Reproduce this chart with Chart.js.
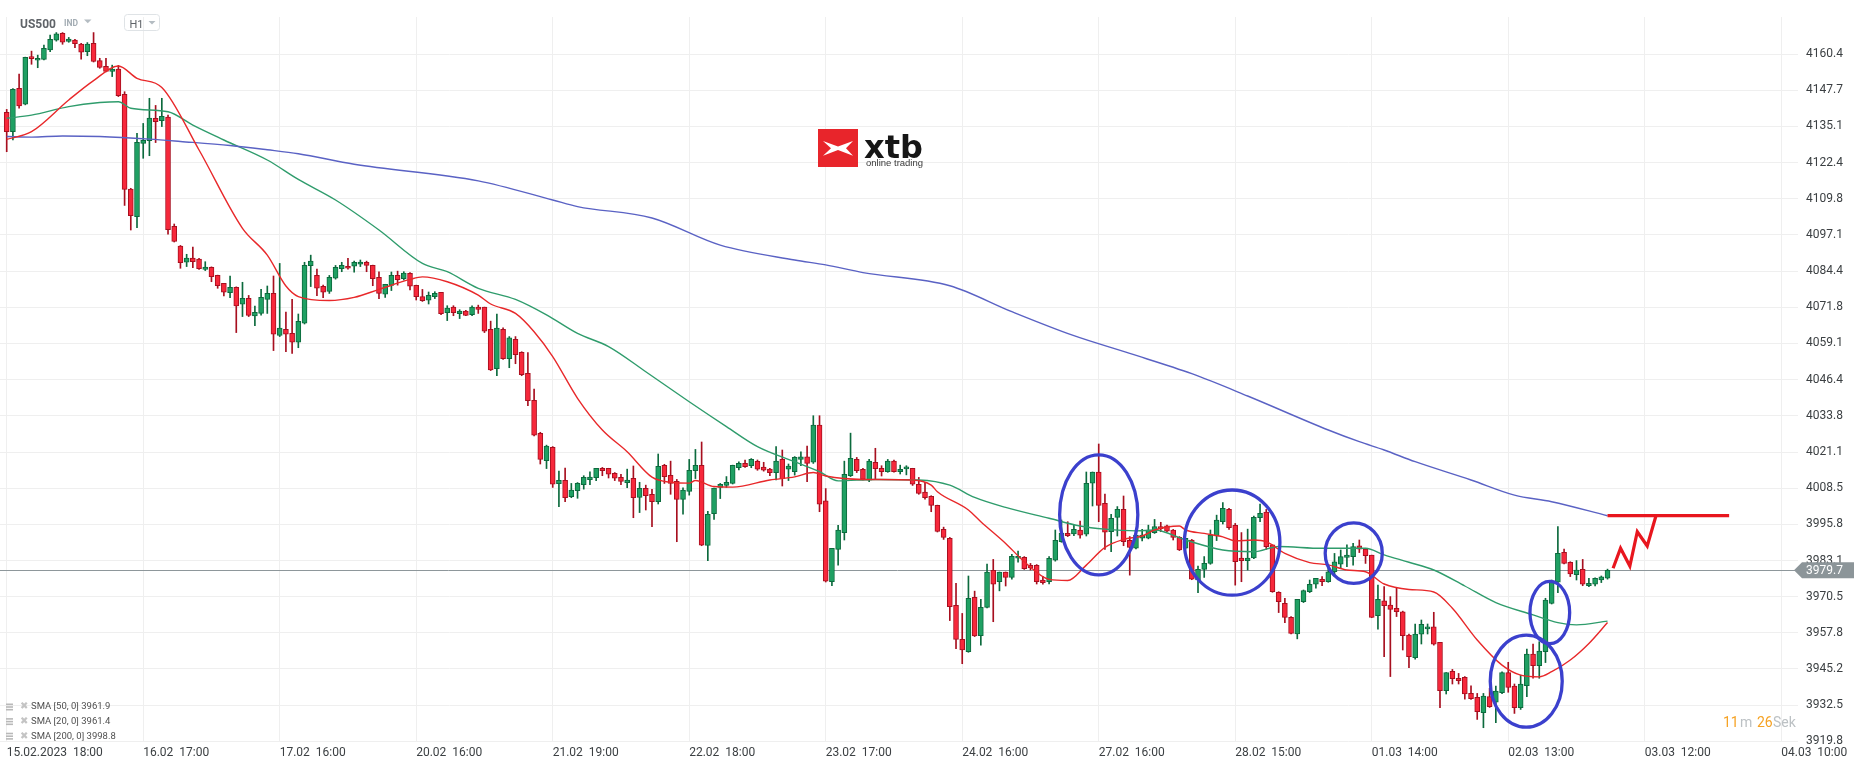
<!DOCTYPE html>
<html>
<head>
<meta charset="utf-8">
<title>US500 H1</title>
<script src="https://cdn.jsdelivr.net/npm/chart.js@4.4.1/dist/chart.umd.min.js"></script>
<style>
  html, body { margin: 0; padding: 0; background: #ffffff; }
  #wrap { position: relative; width: 1866px; height: 767px; }
</style>
</head>
<body>
<div id="wrap"><canvas id="usChart"></canvas></div>
<script>
// hourly candles, one per bar index
const openP = [
  4140.0,4133.2,4148.4,4142.8,4159.5,4158.2,4158.5,4161.8,4165.2,4167.6,4164.8,4165.3,4163.9,4161.2,4164.1,4158.1,4156.1,4154.3,4155.1,4146.3,
  4113.1,4103.5,4129.1,4130.1,4137.9,4137.1,4138.3,4100.1,4093.2,4087.5,4089.0,4088.6,4085.0,4085.7,4082.9,4080.1,4076.9,4078.7,4072.8,4074.9,
  4068.7,4069.6,4074.5,4076.6,4061.9,4064.0,4062.6,4059.5,4066.2,4086.3,4082.9,4079.1,4077.3,4081.9,4085.3,4086.1,4086.1,4086.8,4087.5,4086.4,
  4082.2,4076.3,4079.4,4082.9,4081.8,4083.6,4079.4,4075.5,4074.2,4075.5,4077.0,4069.9,4071.8,4069.5,4070.4,4069.2,4071.8,4071.8,4064.0,4050.3,
  4064.0,4053.8,4060.5,4056.0,4048.6,4039.2,4027.6,4018.1,4022.7,4010.0,4011.2,4005.5,4007.6,4009.7,4011.4,4012.1,4015.4,4015.4,4013.6,4012.2,
  4010.4,4011.9,4005.2,4008.4,4006.3,4003.7,4016.4,4012.9,4010.8,4004.5,4007.3,4014.6,4016.4,3988.4,3999.5,4008.7,4009.4,4010.1,4015.6,4017.1,
  4016.3,4017.8,4015.8,4015.1,4013.9,4018.5,4015.1,4014.2,4018.5,4019.4,4017.5,4030.5,4004.0,3975.7,3987.0,3992.9,4012.8,4018.5,4015.0,4011.2,
  4017.5,4015.4,4014.2,4017.9,4014.2,4015.2,4015.4,4009.8,4007.1,4005.6,4002.4,3994.0,3990.9,3967.4,3955.5,3951.2,3970.2,3956.8,3966.7,3979.7,
  3975.7,3979.1,3977.2,3983.9,3984.2,3981.4,3981.4,3976.3,3975.7,3983.2,3989.7,3992.6,3992.4,3993.8,3992.3,4010.2,4014.1,4003.1,3993.2,3998.2,
  4001.0,3990.2,3987.4,3990.9,3990.9,3992.9,3995.0,3995.3,3993.8,3991.2,3987.4,3990.3,3976.3,3980.0,3982.1,3991.7,3996.7,4001.0,3995.4,3984.0,
  3983.1,3984.0,3998.1,4000.1,3988.6,3972.0,3968.1,3963.2,3957.4,3968.7,3972.2,3974.8,3976.5,3975.7,3979.2,3981.8,3984.2,3984.5,3988.3,3987.1,
  3985.0,3963.8,3969.0,3967.5,3966.4,3965.2,3957.0,3949.1,3957.3,3959.2,3959.9,3954.5,3937.6,3944.3,3941.9,3942.2,3936.6,3935.2,3929.9,3935.5,
  3933.5,3936.9,3943.9,3939.2,3931.6,3939.3,3950.4,3946.3,3951.2,3968.1,3975.5,3986.0,3982.5,3978.2,3980.0,3974.3,3974.8,3976.3,3976.9
];
const highP = [
  4141.0,4148.3,4153.4,4159.3,4161.4,4160.0,4163.5,4167.0,4167.9,4167.9,4166.2,4165.5,4164.1,4164.4,4167.9,4158.9,4158.9,4156.5,4156.4,4147.2,
  4113.4,4132.6,4136.1,4144.9,4142.4,4144.9,4139.0,4100.9,4093.4,4090.3,4092.8,4088.9,4087.7,4085.9,4083.0,4080.1,4082.7,4078.9,4080.5,4075.9,
  4072.2,4078.0,4079.2,4082.7,4087.1,4070.1,4074.5,4069.4,4087.5,4090.0,4085.1,4079.5,4082.9,4086.4,4087.5,4088.9,4087.9,4088.3,4087.9,4086.5,
  4084.2,4079.8,4084.1,4084.4,4084.2,4083.9,4079.5,4078.0,4077.1,4077.2,4077.0,4072.3,4072.3,4070.9,4070.7,4072.3,4072.5,4071.8,4066.9,4069.4,
  4064.6,4061.5,4061.5,4056.2,4055.9,4043.1,4028.0,4023.5,4023.0,4014.4,4015.5,4010.1,4010.4,4012.8,4014.2,4015.4,4015.7,4015.4,4013.9,4013.3,
  4015.1,4016.2,4010.5,4009.5,4008.0,4020.4,4016.8,4017.9,4011.5,4008.6,4018.5,4022.0,4024.6,4000.3,4008.5,4010.1,4012.5,4016.5,4017.7,4018.3,
  4018.8,4018.3,4017.5,4015.4,4023.0,4021.8,4016.9,4019.5,4021.2,4023.2,4033.8,4033.8,4008.3,3987.4,3995.4,4017.9,4027.7,4019.2,4015.4,4018.5,
  4022.4,4016.3,4018.5,4018.3,4016.5,4016.3,4015.4,4012.2,4010.5,4005.8,4002.5,3994.8,3991.2,3975.1,3964.6,3977.7,3972.4,3969.5,3981.9,3983.5,
  3979.1,3979.1,3985.3,3986.4,3984.5,3982.1,3981.7,3977.6,3984.5,3993.8,3997.3,3996.7,3995.5,3996.9,4014.1,4014.1,4023.9,4006.4,3999.3,4002.0,
  4005.7,3991.5,3992.4,3994.0,3995.5,3997.5,3996.5,3995.5,3994.0,3991.5,3990.9,3990.5,3981.2,3984.5,3993.8,3999.0,4003.4,4001.4,3996.1,3992.9,
  3994.1,3998.7,4002.9,4001.0,3988.6,3972.2,3969.9,3963.5,3969.5,3972.8,3976.3,3976.9,3977.5,3981.8,3985.6,3986.8,3988.6,3989.1,3990.3,3987.4,
  3985.0,3974.5,3974.0,3970.5,3973.4,3965.4,3957.4,3960.9,3962.3,3960.9,3965.0,3954.5,3943.9,3945.0,3943.6,3942.5,3939.3,3936.6,3936.6,3938.4,
  3939.2,3944.2,3947.5,3939.9,3943.0,3952.1,3953.9,3954.7,3969.9,3976.3,3995.0,3987.1,3982.7,3983.1,3983.5,3976.9,3977.1,3977.7,3980.1
];
const lowP = [
  4126.2,4130.3,4141.4,4142.6,4156.8,4155.6,4158.3,4161.2,4164.9,4163.8,4164.5,4162.6,4158.6,4159.8,4157.6,4155.4,4154.1,4152.5,4145.5,4107.4,
  4098.8,4099.6,4123.9,4124.8,4129.4,4135.0,4097.3,4094.6,4085.4,4086.0,4085.6,4085.0,4084.6,4080.7,4078.4,4075.7,4075.1,4062.9,4068.5,4068.5,
  4065.3,4069.0,4069.6,4056.6,4061.5,4056.2,4055.6,4057.6,4065.9,4079.0,4075.8,4075.1,4076.6,4081.6,4084.2,4085.1,4084.0,4086.0,4084.2,4079.3,
  4074.8,4075.2,4077.6,4079.5,4081.3,4077.8,4074.3,4073.8,4072.9,4074.8,4069.2,4067.1,4068.8,4067.8,4068.8,4068.8,4069.6,4062.9,4049.6,4047.8,
  4053.5,4050.6,4052.0,4047.8,4037.3,4026.7,4016.9,4015.3,4008.7,4002.0,4003.7,4005.1,4004.9,4008.1,4009.7,4011.1,4012.8,4012.0,4011.1,4009.7,
  4008.6,3998.1,3999.9,4000.8,3995.0,4002.9,4010.1,4006.3,3989.7,3999.3,4006.0,4011.8,3988.3,3983.1,3997.5,4004.8,4008.7,4009.9,4014.8,4015.7,
  4015.6,4014.7,4014.4,4012.8,4011.3,4009.2,4011.1,4013.0,4016.3,4010.7,4017.1,4000.2,3975.6,3974.3,3981.5,3990.3,4012.5,4013.9,4011.3,4010.7,
  4011.5,4012.7,4014.0,4014.0,4013.4,4013.1,4009.4,4006.3,4004.6,4000.2,3993.1,3990.5,3962.1,3952.3,3947.0,3951.0,3956.5,3953.5,3966.5,3961.7,
  3972.5,3974.2,3976.6,3982.5,3980.0,3979.8,3974.9,3974.8,3974.9,3982.9,3989.5,3991.5,3991.8,3990.9,3991.7,4002.2,3996.7,3987.0,3986.2,3991.7,
  3988.3,3978.0,3987.2,3990.0,3990.7,3992.6,3993.2,3993.2,3990.3,3986.6,3987.2,3976.4,3971.9,3977.2,3981.8,3990.1,3995.9,3994.0,3974.5,3975.7,
  3979.8,3983.8,3996.7,3987.0,3972.0,3964.9,3961.4,3957.4,3955.7,3968.4,3971.9,3973.4,3974.3,3975.5,3977.5,3980.4,3981.0,3981.5,3985.9,3982.1,
  3963.1,3959.1,3949.5,3942.5,3963.5,3951.8,3945.6,3948.6,3953.9,3957.4,3953.5,3931.6,3936.4,3939.9,3939.9,3934.6,3934.5,3927.5,3924.6,3931.7,
  3926.4,3936.5,3937.0,3929.6,3931.0,3935.5,3941.9,3941.9,3947.4,3967.9,3971.9,3981.9,3977.5,3976.3,3974.3,3974.0,3974.2,3975.4,3976.6
];
const closeP = [
  4133.2,4148.0,4142.2,4159.2,4158.8,4158.9,4162.4,4165.5,4167.5,4164.5,4165.6,4164.0,4161.0,4163.9,4157.8,4155.7,4154.3,4155.1,4145.8,4113.0,
  4103.8,4129.5,4130.2,4138.0,4136.7,4138.6,4098.9,4094.8,4087.4,4089.0,4087.7,4085.3,4085.8,4082.5,4079.3,4077.0,4078.7,4072.2,4074.9,4068.9,
  4070.0,4075.2,4076.6,4062.3,4064.5,4062.3,4059.5,4066.8,4086.4,4087.9,4078.4,4077.0,4082.2,4085.7,4086.4,4085.4,4087.5,4087.6,4086.4,4081.8,
  4076.6,4079.8,4082.9,4081.4,4083.7,4079.1,4075.5,4074.1,4075.9,4076.6,4069.5,4071.5,4069.9,4070.4,4068.9,4071.8,4071.0,4063.4,4049.8,4064.5,
  4053.8,4061.1,4055.2,4048.2,4039.1,4027.0,4018.5,4023.2,4009.8,4011.2,4005.1,4007.8,4010.1,4012.2,4012.3,4015.4,4014.6,4013.3,4011.9,4010.8,
  4011.3,4005.1,4008.4,4005.8,4003.7,4016.1,4012.5,4010.1,4004.5,4007.8,4014.7,4016.4,3988.5,3999.3,4008.5,4009.8,4010.5,4016.4,4017.1,4016.0,
  4018.5,4015.1,4014.7,4013.9,4017.9,4011.8,4016.2,4019.2,4019.4,4017.1,4030.5,4002.8,3975.9,3987.4,3993.8,4013.3,4018.9,4014.6,4011.5,4017.9,
  4015.3,4014.2,4017.9,4014.2,4015.0,4015.7,4009.8,4006.6,4005.1,4002.4,3993.3,3991.2,3967.0,3955.5,3951.8,3969.9,3956.7,3966.7,3979.1,3974.8,
  3979.1,3977.2,3984.6,3984.6,3980.3,3980.5,3975.7,3975.4,3983.9,3990.2,3992.6,3991.8,3994.0,3992.0,4010.1,4014.1,4002.4,3993.0,3997.9,4001.0,
  3989.7,3987.7,3992.0,3992.0,3993.8,3995.0,3994.3,3993.4,3991.2,3986.8,3990.9,3976.6,3980.0,3982.1,3992.0,3997.3,4001.4,3994.6,3982.7,3983.1,
  3984.0,3998.2,3999.6,3988.0,3972.2,3968.7,3963.2,3957.6,3969.5,3972.6,3974.8,3976.9,3975.7,3979.2,3982.7,3984.5,3985.0,3988.0,3987.1,3984.8,
  3963.2,3969.5,3967.3,3966.0,3965.2,3956.8,3949.5,3957.4,3960.8,3959.9,3953.8,3937.6,3943.9,3941.8,3941.1,3936.4,3934.8,3930.2,3935.7,3932.0,
  3937.4,3943.9,3938.7,3931.6,3939.9,3950.4,3946.3,3951.4,3969.3,3975.9,3985.6,3982.1,3978.4,3979.8,3974.8,3975.1,3976.9,3977.4,3979.7
];

// moving averages: [bar index, value]
const sma20 = [
  [0,4130.5],[4,4133.2],[10,4144.3],[14,4151.1],[18,4156.2],[21,4151.9],[25,4148.7],[31,4126.8],[38,4099.4],[42,4090.0],
  [45,4079.2],[47,4075.5],[52,4074.1],[56,4075.2],[60,4078.0],[65,4081.5],[67,4082.4],[71,4080.7],[76,4076.0],[78,4072.9],
  [82,4069.6],[85,4063.2],[88,4054.5],[92,4039.9],[96,4028.8],[100,4021.2],[104,4012.3],[107,4010.5],[110,4010.2],[111,4011.1],
  [114,4009.0],[117,4008.8],[123,4011.3],[127,4012.4],[130,4013.9],[132,4012.7],[138,4011.5],[146,4011.3],[149,4009.5],[150,4007.2],
  [155,4000.8],[157,3996.7],[161,3989.1],[164,3982.7],[168,3976.5],[171,3976.1],[174,3981.5],[177,3987.7],[180,3990.5],[183,3991.7],
  [185,3993.8],[189,3995.2],[190,3993.8],[193,3992.6],[196,3991.4],[198,3990.0],[201,3990.3],[203,3989.7],[206,3985.6],[210,3982.4],
  [213,3981.6],[216,3979.8],[219,3979.2],[222,3974.9],[226,3973.0],[230,3972.1],[233,3966.4],[237,3955.3],[241,3946.5],[244,3943.0],
  [247,3942.4],[249,3944.2],[252,3948.3],[255,3954.1],[258,3961.4]
];
const sma50 = [
  [0,4137.9],[4,4139.0],[10,4142.0],[15,4143.4],[18,4143.7],[20,4141.4],[26,4140.2],[30,4135.5],[35,4130.3],[42,4123.3],
  [47,4116.5],[53,4109.3],[60,4098.8],[67,4087.1],[71,4084.2],[76,4078.4],[82,4074.5],[87,4069.1],[92,4062.6],[97,4058.0],
  [103,4049.2],[110,4038.7],[116,4030.0],[121,4023.0],[127,4017.7],[131,4014.2],[134,4011.0],[140,4011.5],[147,4011.3],[152,4009.5],
  [156,4005.2],[161,4001.7],[168,3997.9],[173,3995.2],[177,3994.1],[182,3993.5],[185,3993.8],[190,3990.3],[196,3986.8],[201,3986.2],
  [205,3988.0],[212,3987.4],[219,3987.4],[222,3985.1],[226,3982.5],[230,3979.8],[235,3974.2],[240,3968.4],[246,3964.1],[250,3961.4],
  [253,3960.6],[258,3961.9]
];
const sma200 = [
  [0,4131.5],[4,4131.3],[9,4131.7],[15,4131.5],[23,4130.6],[28,4129.8],[36,4128.4],[42,4126.9],[47,4125.5],[56,4121.8],
  [76,4116.0],[88,4109.3],[92,4107.0],[104,4103.0],[115,4093.5],[127,4088.3],[132,4086.6],[138,4083.9],[152,4079.3],[162,4070.2],
  [172,4061.8],[181,4055.6],[191,4048.5],[200,4040.7],[213,4028.8],[218,4024.7],[222,4021.8],[227,4017.7],[236,4011.3],[243,4006.0],
  [249,4003.7],[258,3998.8]
];

const xTickIdx = [0,22,44,66,88,110,132,154,176,198,220,242,264,286];
const xTickLabels = [
  '15.02.2023  18:00','16.02  17:00','17.02  16:00','20.02  16:00','21.02  19:00','22.02  18:00','23.02  17:00',
  '24.02  16:00','27.02  16:00','28.02  15:00','01.03  14:00','02.03  13:00','03.03  12:00','04.03  10:00'
];
const yTicks = [4160.4,4147.7,4135.1,4122.4,4109.8,4097.1,4084.4,4071.8,4059.1,4046.4,4033.8,4021.1,4008.5,3995.8,3983.1,3970.5,3957.8,3945.2,3932.5,3919.8];

// hand drawn marks, in chart units: [bar, price, half width in bars, half height in points]
const circles = [[176.0,3999.1,6.3,21.0],[197.5,3989.4,7.7,18.4],[217.1,3985.7,4.6,10.6],[248.7,3964.9,3.2,10.9],[244.9,3940.9,5.8,16.1]];
const targetLine = [[258,3998.8],[277.6,3998.8]];
const zigzag = [[258.9,3980.4],[260.1,3987.4],[261.6,3981.2],[262.8,3993.2],[264.4,3988.2],[265.8,3998.7]];

const bars = closeP.map((c, i) => i);
const lastClose = closeP[closeP.length - 1];
const isUp = closeP.map((c, i) => c >= openP[i]);
const bodyFill = isUp.map(u => u ? '#1fa063' : '#f7283b');
const bodyEdge = isUp.map(u => u ? '#0c6a3d' : '#a70f1f');

Chart.defaults.font.family = 'Roboto, "Noto Sans", sans-serif';

const decor = {
  id: 'decor',
  beforeDatasetsDraw(chart) {
    const { ctx, chartArea, scales: { y } } = chart;
    ctx.save();
    // xtb logo
    ctx.fillStyle = '#e8252b';
    ctx.fillRect(818, 129, 40, 38);
    ctx.fillStyle = '#ffffff';
    ctx.beginPath();
    ctx.moveTo(823, 141); ctx.lineTo(838, 146.5); ctx.lineTo(853, 141); ctx.lineTo(846, 148.3);
    ctx.lineTo(853, 155.7); ctx.lineTo(838, 150); ctx.lineTo(823, 155.7); ctx.lineTo(831, 148.3);
    ctx.closePath(); ctx.fill();
    ctx.fillStyle = '#161616';
    ctx.font = 'bold 32px "DejaVu Sans"';
    ctx.textBaseline = 'alphabetic';
    ctx.fillText('xtb', 864, 158);
    ctx.fillStyle = '#3a3a3a';
    ctx.font = '9.5px "Liberation Sans"';
    ctx.fillText('online trading', 866, 166);
    // last price line
    const py = Math.round(y.getPixelForValue(lastClose)) + 0.5;
    ctx.strokeStyle = '#8e979b';
    ctx.lineWidth = 1;
    ctx.beginPath(); ctx.moveTo(chartArea.left, py); ctx.lineTo(1795, py); ctx.stroke();
    ctx.restore();
  },
  afterDatasetsDraw(chart) {
    const { ctx, scales: { x, y } } = chart;
    ctx.save();
    ctx.strokeStyle = '#3b40cd';
    ctx.lineWidth = 3.3;
    circles.forEach(([cx, cy, rx, ry]) => {
      const px = x.getPixelForValue(cx), pyy = y.getPixelForValue(cy);
      const w = x.getPixelForValue(cx + rx) - px, h = pyy - y.getPixelForValue(cy + ry);
      ctx.beginPath(); ctx.ellipse(px, pyy, w, h, 0, 0, Math.PI * 2); ctx.stroke();
    });
    ctx.strokeStyle = '#e8161e';
    ctx.lineWidth = 3.2;
    [targetLine, zigzag].forEach(path => {
      ctx.beginPath();
      path.forEach(([a, b], k) => {
        const px = x.getPixelForValue(a), pyy = y.getPixelForValue(b);
        if (k === 0) ctx.moveTo(px, pyy); else ctx.lineTo(px, pyy);
      });
      ctx.stroke();
    });
    ctx.restore();
  },
  afterDraw(chart) {
    const { ctx, scales: { y } } = chart;
    ctx.save();
    ctx.textBaseline = 'alphabetic';
    // header
    ctx.fillStyle = '#5f6368';
    ctx.font = 'bold 12px Roboto';
    ctx.fillText('US500', 20, 27.5);
    ctx.fillStyle = '#a3acb3';
    ctx.font = 'bold 8.5px Roboto';
    ctx.fillText('IND', 64, 26.3);
    ctx.fillStyle = '#b4bcc2';
    ctx.beginPath(); ctx.moveTo(84, 19.5); ctx.lineTo(91.5, 19.5); ctx.lineTo(87.75, 23.2); ctx.fill();
    ctx.strokeStyle = '#dfe3e6';
    ctx.lineWidth = 1;
    ctx.beginPath(); ctx.roundRect(124.5, 14.5, 35, 16, 3); ctx.stroke();
    ctx.fillStyle = '#5f6368';
    ctx.font = '11px Roboto';
    ctx.fillText('H1', 129.5, 27.5);
    ctx.fillStyle = '#b4bcc2';
    ctx.beginPath(); ctx.moveTo(148.5, 21); ctx.lineTo(155.5, 21); ctx.lineTo(152, 24.5); ctx.fill();

    // indicator legend
    const rows = [['SMA [50, 0] ', sma50], ['SMA [20, 0] ', sma20], ['SMA [200, 0] ', sma200]];
    ctx.font = '9.5px Roboto';
    ctx.textBaseline = 'middle';
    rows.forEach(([name, s], k) => {
      const ry = 707 + k * 14.6;
      ctx.fillStyle = '#b9b9b9';
      ctx.fillRect(6, ry - 3.5, 7, 1.6);
      ctx.fillRect(6, ry - 0.8, 7, 1.6);
      ctx.fillRect(6, ry + 1.9, 7, 1.6);
      ctx.fillStyle = '#c4c4c4';
      ctx.fillText('\u2716', 19.5, ry);
      ctx.fillStyle = '#505050';
      ctx.fillText(name + s[s.length - 1][1].toFixed(1), 31, ry);
    });

    // candle countdown
    ctx.font = '14px Roboto';
    ctx.fillStyle = '#f6a223'; ctx.fillText('11', 1723, 723);
    ctx.fillStyle = '#bcc1c4'; ctx.fillText('m', 1740, 723);
    ctx.fillStyle = '#f6a223'; ctx.fillText('26', 1757, 723);
    ctx.fillStyle = '#bcc1c4'; ctx.fillText('Sek', 1773, 723);

    // last price tag
    const ty = y.getPixelForValue(lastClose);
    ctx.fillStyle = '#8c9599';
    ctx.beginPath();
    ctx.moveTo(1794, ty); ctx.lineTo(1802, ty - 8); ctx.lineTo(1854, ty - 8);
    ctx.lineTo(1854, ty + 8); ctx.lineTo(1802, ty + 8); ctx.closePath(); ctx.fill();
    ctx.fillStyle = '#ffffff';
    ctx.font = '12px Roboto';
    ctx.fillText(lastClose.toFixed(1), 1806, ty + 0.5);
    ctx.restore();
  }
};

new Chart(document.getElementById('usChart').getContext('2d'), {
  type: 'bar',
  data: {
    datasets: [
      {
        label: 'wick',
        data: bars.map(i => ({ x: i, y: [lowP[i], highP[i]] })),
        backgroundColor: bodyEdge,
        borderWidth: 0,
        barThickness: 1,
        grouped: false,
        order: 3
      },
      {
        label: 'body',
        data: bars.map(i => ({ x: i, y: [openP[i], closeP[i]] })),
        backgroundColor: bodyFill,
        borderColor: bodyEdge,
        borderWidth: 1,
        borderSkipped: false,
        barThickness: 5,
        minBarLength: 2,
        grouped: false,
        order: 2
      },
      {
        type: 'line', label: 'SMA 200',
        data: sma200.map(p => ({ x: p[0], y: p[1] })),
        borderColor: '#5a62c4', borderWidth: 1.4, pointRadius: 0,
        cubicInterpolationMode: 'monotone', order: 1
      },
      {
        type: 'line', label: 'SMA 50',
        data: sma50.map(p => ({ x: p[0], y: p[1] })),
        borderColor: '#2f9c6c', borderWidth: 1.4, pointRadius: 0,
        cubicInterpolationMode: 'monotone', order: 1
      },
      {
        type: 'line', label: 'SMA 20',
        data: sma20.map(p => ({ x: p[0], y: p[1] })),
        borderColor: '#e8282a', borderWidth: 1.4, pointRadius: 0,
        cubicInterpolationMode: 'monotone', order: 0
      }
    ]
  },
  options: {
    responsive: true,
    maintainAspectRatio: false,
    animation: false,
    devicePixelRatio: 1,
    layout: { padding: { top: 17, left: 0, right: 0, bottom: 0 } },
    plugins: {
      legend: { display: false },
      tooltip: { enabled: false }
    },
    scales: {
      x: {
        type: 'linear',
        min: -1.08,
        max: 288.7,
        offset: false,
        grid: { color: '#efefef', drawTicks: false, offset: false },
        border: { display: false },
        afterBuildTicks: s => { s.ticks = xTickIdx.map(v => ({ value: v })); },
        afterFit: s => { s.height = 25; },
        ticks: {
          align: 'start',
          autoSkip: false,
          maxRotation: 0,
          padding: 4,
          color: '#3c4043',
          font: { size: 12 },
          callback: (v, i) => xTickLabels[i]
        }
      },
      y: {
        position: 'right',
        min: 3919.6,
        max: 4173.35,
        beginAtZero: false,
        grid: { color: '#efefef', drawTicks: false },
        border: { display: false },
        afterBuildTicks: s => { s.ticks = yTicks.map(v => ({ value: v })); },
        afterFit: s => { s.width = 68; },
        ticks: {
          padding: 8,
          color: '#3c4043',
          font: { size: 12 },
          callback: v => v.toFixed(1)
        }
      }
    }
  },
  plugins: [decor]
});
</script>
</body>
</html>
